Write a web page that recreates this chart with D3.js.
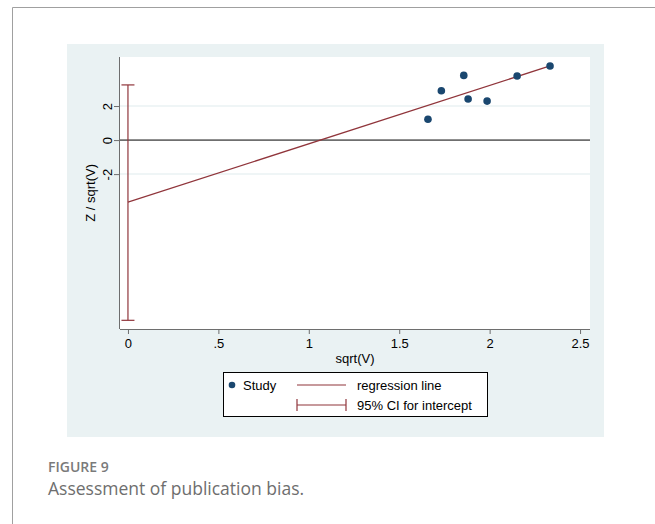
<!DOCTYPE html>
<html>
<head>
<meta charset="utf-8" />
<title>Assessment of publication bias</title>
<script src="https://cdn.jsdelivr.net/npm/d3@7"></script>
<style>
  body { margin: 0; background: #fff; }
  text { font-family: "Liberation Sans", Arial, sans-serif; }
</style>
</head>
<body>
<script>
  var width = 655, height = 524;

  // data
  var studyX = [1.659, 1.733, 1.857, 1.881, 1.986, 2.152, 2.334];
  var studyY = [1.22, 2.90, 3.80, 2.41, 2.29, 3.76, 4.35];
  var regIntercept = -3.65, regSlope = 3.43;
  var ciIntercept = [-10.59, 3.24];
  var xTicks = [0, 0.5, 1, 1.5, 2, 2.5];
  var xTickLabels = ["0", ".5", "1", "1.5", "2", "2.5"];
  var yTicks = [-2, 0, 2];
  var yTickLabels = ["-2", "0", "2"];

  var navy = "#1a476f", maroon = "#90353b";
  var fs = "13px";

  var svg = d3.select("body").append("svg")
      .attr("width", width)
      .attr("height", height);

  // page frame
  svg.append("path")
      .attr("d", "M12.5,524 L12.5,7.5 L655,7.5")
      .attr("fill", "none")
      .attr("stroke", "#a0a0a0")
      .attr("stroke-width", 1);

  // stata graph region
  svg.append("rect")
      .attr("x", 67).attr("y", 44)
      .attr("width", 537).attr("height", 393)
      .attr("fill", "#eaf2f3");

  var plot = {left: 120, right: 590, top: 57, bottom: 329};

  svg.append("rect")
      .attr("x", plot.left).attr("y", plot.top)
      .attr("width", plot.right - plot.left)
      .attr("height", plot.bottom - plot.top)
      .attr("fill", "#fff");

  var x = d3.scaleLinear().domain([-0.044, 2.555]).range([plot.left, plot.right]);
  var y = d3.scaleLinear().domain([-11.1, 4.88]).range([plot.bottom, plot.top]);

  // grid lines
  svg.append("g").selectAll("line")
      .data(yTicks.filter(function(d) { return d !== 0; }))
      .enter().append("line")
      .attr("x1", plot.left).attr("x2", plot.right)
      .attr("y1", function(d) { return y(d); })
      .attr("y2", function(d) { return y(d); })
      .attr("stroke", "#eaf2f3")
      .attr("stroke-width", 1.5);

  // y = 0 reference line
  svg.append("line")
      .attr("x1", plot.left).attr("x2", plot.right)
      .attr("y1", y(0)).attr("y2", y(0))
      .attr("stroke", "#000")
      .attr("stroke-width", 1);

  // x axis
  var xAxis = d3.axisBottom(x)
      .tickValues(xTicks)
      .tickSize(5)
      .tickPadding(5)
      .tickFormat(function(d, i) { return xTickLabels[i]; });

  var gx = svg.append("g")
      .attr("transform", "translate(0," + plot.bottom + ")")
      .call(xAxis);
  gx.select(".domain")
      .attr("d", "M" + plot.left + ",0.5H" + plot.right)
      .attr("stroke", "#6e6e6e");
  gx.selectAll(".tick line").attr("stroke", "#6e6e6e");
  gx.selectAll(".tick text")
      .attr("fill", "#000")
      .style("font-size", fs)
      .style("font-family", "'Liberation Sans', Arial, sans-serif");

  // y axis
  var yAxis = d3.axisLeft(y)
      .tickValues(yTicks)
      .tickSize(6)
      .tickPadding(0)
      .tickFormat(function(d, i) { return yTickLabels[i]; });

  var gy = svg.append("g")
      .attr("transform", "translate(" + plot.left + ",0)")
      .call(yAxis);
  gy.select(".domain")
      .attr("d", "M-0.5," + plot.top + "V" + plot.bottom)
      .attr("stroke", "#6e6e6e");
  gy.selectAll(".tick line").attr("stroke", "#6e6e6e");
  gy.selectAll(".tick text")
      .attr("x", 0).attr("y", 0)
      .attr("text-anchor", "middle")
      .attr("transform", "translate(-13,0) rotate(-90)")
      .attr("dy", "0.35em")
      .attr("fill", "#000")
      .style("font-size", fs)
      .style("font-family", "'Liberation Sans', Arial, sans-serif");

  // axis titles
  svg.append("text")
      .attr("x", (plot.left + plot.right) / 2)
      .attr("y", 363)
      .attr("text-anchor", "middle")
      .style("font-size", fs)
      .text("sqrt(V)");

  svg.append("text")
      .attr("transform", "translate(95," + y(-3.1) + ") rotate(-90)")
      .attr("text-anchor", "middle")
      .style("font-size", fs)
      .text("Z / sqrt(V)");

  // CI for intercept
  var ci = svg.append("g").attr("stroke", maroon).attr("stroke-width", 1.2);
  ci.append("line")
      .attr("x1", x(0)).attr("x2", x(0))
      .attr("y1", y(ciIntercept[0])).attr("y2", y(ciIntercept[1]));
  ci.selectAll("line.cap")
      .data(ciIntercept)
      .enter().append("line")
      .attr("class", "cap")
      .attr("x1", x(0) - 6.5).attr("x2", x(0) + 6.5)
      .attr("y1", function(d) { return y(d); })
      .attr("y2", function(d) { return y(d); });

  // regression line
  var xMax = d3.max(studyX);
  svg.append("line")
      .attr("x1", x(0)).attr("y1", y(regIntercept))
      .attr("x2", x(xMax)).attr("y2", y(regIntercept + regSlope * xMax))
      .attr("stroke", maroon)
      .attr("stroke-width", 1.2);

  // studies
  svg.append("g").selectAll("circle")
      .data(studyX)
      .enter().append("circle")
      .attr("cx", function(d) { return x(d); })
      .attr("cy", function(d, i) { return y(studyY[i]); })
      .attr("r", 3.8)
      .attr("fill", navy);

  // legend
  var leg = svg.append("g");
  leg.append("rect")
      .attr("x", 223.5).attr("y", 372.5)
      .attr("width", 264).attr("height", 44)
      .attr("fill", "#fff")
      .attr("stroke", "#000")
      .attr("stroke-width", 1);
  leg.append("circle")
      .attr("cx", 232).attr("cy", 385).attr("r", 3.3).attr("fill", navy);
  leg.append("text").attr("x", 243).attr("y", 390)
      .style("font-size", fs).text("Study");
  leg.append("line")
      .attr("x1", 297).attr("x2", 346).attr("y1", 385).attr("y2", 385)
      .attr("stroke", maroon).attr("stroke-width", 1.2);
  leg.append("text").attr("x", 357).attr("y", 390)
      .style("font-size", fs).text("regression line");
  var lc = leg.append("g").attr("stroke", maroon).attr("stroke-width", 1.2);
  lc.append("line").attr("x1", 297).attr("x2", 346).attr("y1", 405).attr("y2", 405);
  lc.append("line").attr("x1", 297).attr("x2", 297).attr("y1", 399).attr("y2", 411);
  lc.append("line").attr("x1", 346).attr("x2", 346).attr("y1", 399).attr("y2", 411);
  leg.append("text").attr("x", 357).attr("y", 410)
      .style("font-size", fs).text("95% CI for intercept");

  // caption
  svg.append("text")
      .attr("x", 48).attr("y", 472)
      .attr("fill", "#7a7a7a")
      .style("font-family", "'Open Sans', 'Noto Sans', sans-serif")
      .style("font-size", "14px")
      .style("font-weight", "600")
      .text("FIGURE 9");
  svg.append("text")
      .attr("x", 48).attr("y", 495)
      .attr("fill", "#6e6e6e")
      .style("font-family", "'Open Sans', 'Noto Sans', sans-serif")
      .style("font-size", "17.5px")
      .text("Assessment of publication bias.");
</script>
</body>
</html>
